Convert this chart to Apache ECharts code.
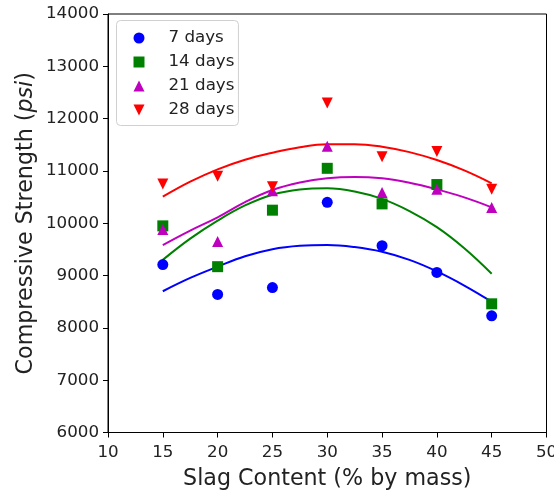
<!DOCTYPE html>
<html>
<head>
<meta charset="utf-8">
<script src="https://cdn.jsdelivr.net/npm/echarts@6/dist/echarts.min.js"></script>
<style>
html,body{margin:0;padding:0;background:#fff;}
#chart{width:554px;height:493px;}
</style>
</head>
<body>
<div id="chart"></div>
<script>
// Slag content (% by mass) of the measured specimens
const slag = [15, 20, 25, 30, 35, 40, 45];
// Measured compressive strength (psi)
const days7  = [9210, 8640, 8770, 10400, 9570, 9060, 8230];
const days14 = [9950, 9170, 10250, 11050, 10370, 10740, 8460];
const days21 = [9880, 9650, 10620, 11470, 10590, 10650, 10300];
const days28 = [10750, 10900, 10700, 12300, 11270, 11370, 10650];
// Trend curves at these slag contents (psi)
const fitSlag = [15, 17.5, 20, 22.5, 25, 27.5, 30, 32.5, 35, 37.5, 40, 42.5, 45];
const fit7  = [8700, 8955, 9170, 9370, 9505, 9570, 9585, 9545, 9455, 9300, 9080, 8810, 8500];
const fit14 = [9300, 9705, 10050, 10340, 10545, 10645, 10668, 10607, 10465, 10232, 9925, 9522, 9035];
const fit21 = [9583, 9860, 10113, 10404, 10635, 10778, 10860, 10886, 10858, 10775, 10648, 10494, 10304];
const fit28 = [10507, 10794, 11030, 11214, 11348, 11454, 11510, 11511, 11463, 11360, 11208, 11010, 10763];
// Labels
const seriesNames = ['7 days', '14 days', '21 days', '28 days'];
const xTicks = [10, 15, 20, 25, 30, 35, 40, 45, 50];
const yTicks = [6000, 7000, 8000, 9000, 10000, 11000, 12000, 13000, 14000];

const colors = ['#0000ff', '#008000', '#bf00bf', '#ff0000'];
const downTri = 'path://M0,0L10,0L5,10Z';
const symbols = ['circle', 'rect', 'triangle', downTri];
const measured = [days7, days14, days21, days28];
const fits = [fit7, fit14, fit21, fit28];

const pairs = (xs, ys) => xs.map((x, i) => [x, ys[i]]);

const series = [];
fits.forEach((f, i) => {
  series.push({
    name: 'fit ' + seriesNames[i],
    type: 'line',
    data: pairs(fitSlag, f),
    smooth: 0.4,
    showSymbol: false,
    symbol: 'none',
    lineStyle: { color: colors[i], width: 2 },
    z: 2,
    silent: true
  });
});
measured.forEach((m, i) => {
  series.push({
    name: seriesNames[i],
    type: 'scatter',
    data: pairs(slag, m),
    symbol: symbols[i],
    symbolKeepAspect: false,
    symbolSize: 11,
    itemStyle: { color: colors[i], opacity: 1 },
    z: 3 + i
  });
});

const chart = echarts.init(document.getElementById('chart'), null, { renderer: 'canvas' });
const font = 'DejaVu Sans';
chart.setOption({
  animation: false,
  backgroundColor: '#fff',
  grid: {
    left: 108, right: 7.5, top: 14, bottom: 60.5,
    outerBoundsMode: 'none',
    containLabel: false,
    show: true, borderColor: '#000', borderWidth: 1, backgroundColor: 'transparent'
  },
  legend: {
    data: seriesNames.map((n, i) => ({ name: n, icon: symbols[i] })),
    orient: 'vertical',
    left: 116.5, top: 20.5,
    padding: [9, 4, 7, 17],
    itemWidth: 11, itemHeight: 11,
    itemGap: 7,
    symbolKeepAspect: true,
    borderColor: '#d0d0d0', borderWidth: 1, borderRadius: 4,
    backgroundColor: 'rgba(255,255,255,0.8)',
    textStyle: { fontFamily: font, fontSize: 16.7, color: '#222', padding: [0, 0, 0, 19] }
  },
  xAxis: {
    type: 'value', min: 10, max: 50, interval: 5,
    name: 'Slag Content (% by mass)',
    nameLocation: 'middle', nameGap: 36,
    nameMoveOverlap: false,
    nameTextStyle: { fontFamily: font, fontSize: 22.2, color: '#222', verticalAlign: 'top' },
    axisLine: { show: true, onZero: false, lineStyle: { color: '#000', width: 1 } },
    axisTick: { show: true, inside: false, length: 5, lineStyle: { color: '#000', width: 1 } },
    axisLabel: { fontFamily: font, fontSize: 16.7, color: '#222', margin: 12, showMaxLabel: true, showMinLabel: true,
      formatter: v => String(v) },
    splitLine: { show: false }
  },
  yAxis: {
    type: 'value', min: 6000, max: 14000, interval: 1000,
    name: 'Compressive Strength ({i|psi})',
    nameLocation: 'middle', nameGap: 71,
    nameMoveOverlap: false,
    nameTextStyle: {
      fontFamily: font, fontSize: 22.2, color: '#222',
      rich: { i: { fontFamily: font, fontSize: 22.2, fontStyle: 'italic', color: '#222' } }
    },
    axisLine: { show: true, lineStyle: { color: '#000', width: 1 } },
    axisTick: { show: true, inside: false, length: 5, lineStyle: { color: '#000', width: 1 } },
    axisLabel: { fontFamily: font, fontSize: 16.7, color: '#222', margin: 9, showMaxLabel: true, showMinLabel: true,
      formatter: v => String(v) },
    splitLine: { show: false }
  },
  series: series
});
</script>
</body>
</html>
